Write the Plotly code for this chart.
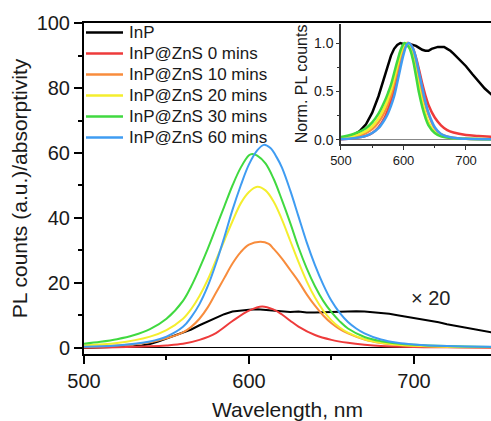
import plotly.graph_objects as go

# ---------------- data: main panel (PL counts / absorptivity) ----------------
wl_inp = [500, 510, 520, 530, 535, 540, 545, 550, 555, 560, 565, 570, 575, 580, 585, 590, 595,
          600, 605, 610, 615, 620, 625, 630, 635, 640, 645, 650, 655, 660, 665, 670, 675, 680,
          685, 690, 695, 700, 705, 710, 715, 720, 725, 730, 735, 740, 745, 747]
pl_inp = [0.0, 0.1, 0.3, 0.5, 0.8, 1.2, 2.0, 2.9, 3.8, 4.6, 5.7, 7.0, 8.2, 9.3, 10.4, 11.2, 11.6,
          11.8, 11.9, 11.7, 11.5, 11.4, 11.1, 11.2, 10.9, 10.9, 11.0, 11.2, 11.3, 11.4, 11.3, 11.2,
          11.0, 10.8, 10.5, 10.1, 9.7, 9.3, 8.9, 8.4, 7.9, 7.3, 6.8, 6.3, 5.9, 5.4, 5.0, 4.8]

wl_0 = [500, 520, 540, 550, 560, 570, 580, 590, 600, 608, 615, 620, 625, 630, 640, 650, 660, 670,
        680, 700, 720, 747]
pl_0 = [0.1, 0.2, 0.5, 0.8, 1.3, 2.5, 4.6, 8.3, 11.5, 12.8, 11.8, 10.3, 8.4, 6.6, 4.0, 2.5, 1.6,
        1.0, 0.6, 0.3, 0.2, 0.1]

wl_10 = [500, 520, 540, 550, 560, 565, 570, 575, 580, 585, 590, 595, 600, 607, 612, 615, 620, 625,
         630, 635, 640, 645, 650, 655, 660, 670, 680, 690, 700, 720, 747]
pl_10 = [0.4, 0.8, 1.8, 3.0, 4.8, 6.5, 9.0, 12.5, 17.0, 21.5, 26.0, 29.5, 31.8, 32.7, 32.0, 30.5,
         27.5, 24.0, 20.5, 16.5, 13.0, 10.0, 7.6, 5.8, 4.5, 2.6, 1.5, 0.9, 0.6, 0.3, 0.2]

wl_20 = [500, 520, 540, 550, 560, 565, 570, 575, 580, 585, 590, 595, 600, 605, 610, 615, 620, 625,
         630, 635, 640, 645, 650, 655, 660, 670, 680, 690, 700, 720, 747]
pl_20 = [0.8, 1.5, 3.5, 5.5, 9.0, 12.0, 16.0, 21.0, 27.0, 33.0, 39.0, 44.5, 48.0, 49.6, 48.5, 45.0,
         39.5, 33.0, 26.5, 20.5, 15.5, 11.5, 8.5, 6.3, 4.7, 2.7, 1.6, 1.0, 0.7, 0.4, 0.3]

wl_30 = [500, 510, 520, 530, 540, 550, 560, 565, 570, 575, 580, 585, 590, 595, 600, 602, 605, 610,
         615, 620, 625, 630, 635, 640, 645, 650, 655, 660, 670, 680, 690, 700, 720, 747]
pl_30 = [1.3, 1.9, 2.7, 3.9, 5.8, 9.0, 14.5, 19.0, 24.5, 30.5, 37.0, 43.5, 50.0, 55.5, 59.3, 59.7,
         59.2, 56.8, 52.0, 45.5, 38.5, 31.0, 24.5, 19.0, 14.5, 11.0, 8.2, 6.0, 3.4, 2.1, 1.4, 1.0,
         0.6, 0.3]

wl_60 = [500, 520, 540, 550, 560, 565, 570, 575, 580, 585, 590, 595, 600, 605, 609, 613, 617, 620,
         625, 630, 635, 640, 645, 650, 655, 660, 665, 670, 680, 690, 700, 720, 747]
pl_60 = [0.4, 0.8, 2.0, 3.5, 6.5, 9.5, 13.5, 19.0, 26.0, 34.0, 42.5, 50.0, 56.5, 60.8, 62.5, 61.5,
         58.5, 55.5, 48.5, 40.5, 32.5, 25.5, 19.5, 14.5, 10.8, 8.0, 6.0, 4.5, 2.6, 1.6, 1.1, 0.6, 0.4]

# ---------------- data: inset (normalized PL) ----------------
in_wl_inp = [500, 510, 520, 530, 540, 550, 560, 570, 580, 585, 590, 595, 600, 605, 610, 615, 620,
             625, 630, 635, 640, 645, 650, 655, 660, 665, 670, 675, 680, 690, 700, 710, 720, 730, 742]
in_inp = [0.02, 0.03, 0.05, 0.09, 0.16, 0.28, 0.45, 0.67, 0.87, 0.94, 0.98, 1.0, 0.99, 0.98, 0.99,
          0.98, 0.97, 0.95, 0.93, 0.92, 0.92, 0.94, 0.95, 0.96, 0.96, 0.96, 0.94, 0.92, 0.89, 0.83,
          0.76, 0.68, 0.60, 0.53, 0.46]

in_wl_0 = [500, 520, 540, 550, 560, 570, 575, 580, 585, 590, 595, 600, 607, 612, 616, 620, 625, 630,
           635, 640, 650, 660, 670, 680, 700, 720, 742]
in_0 = [0.005, 0.015, 0.04, 0.07, 0.13, 0.23, 0.31, 0.41, 0.52, 0.65, 0.79, 0.91, 1.0, 0.98, 0.93,
        0.85, 0.72, 0.58, 0.46, 0.36, 0.23, 0.15, 0.1, 0.075, 0.05, 0.04, 0.03]

in_wl_10 = [500, 520, 540, 550, 560, 570, 575, 580, 585, 590, 595, 600, 606, 610, 614, 618, 622, 626,
            630, 635, 640, 650, 660, 680, 700, 742]
in_10 = [0.01, 0.03, 0.07, 0.11, 0.18, 0.29, 0.37, 0.46, 0.58, 0.71, 0.84, 0.94, 1.0, 0.98, 0.93,
         0.84, 0.72, 0.6, 0.48, 0.36, 0.26, 0.12, 0.06, 0.02, 0.01, 0.005]

in_wl_20 = [500, 520, 540, 550, 560, 570, 575, 580, 585, 590, 595, 600, 604, 608, 612, 616, 620, 625,
            630, 635, 640, 650, 660, 680, 700, 742]
in_20 = [0.02, 0.04, 0.09, 0.14, 0.22, 0.34, 0.42, 0.51, 0.63, 0.76, 0.88, 0.97, 1.0, 0.98, 0.93,
         0.83, 0.7, 0.54, 0.39, 0.27, 0.18, 0.08, 0.04, 0.015, 0.01, 0.005]

in_wl_30 = [500, 520, 540, 550, 560, 570, 575, 580, 585, 590, 595, 600, 602, 605, 610, 615, 620, 625,
            630, 635, 640, 650, 660, 680, 700, 742]
in_30 = [0.03, 0.06, 0.12, 0.18, 0.27, 0.40, 0.48, 0.57, 0.69, 0.81, 0.92, 0.99, 1.0, 0.985, 0.94,
         0.83, 0.66, 0.48, 0.34, 0.23, 0.15, 0.07, 0.035, 0.015, 0.01, 0.005]

in_wl_60 = [500, 520, 540, 550, 560, 570, 575, 580, 585, 590, 595, 600, 605, 608, 612, 616, 620, 624,
            628, 632, 636, 640, 650, 660, 680, 700, 742]
in_60 = [0.005, 0.015, 0.04, 0.07, 0.12, 0.21, 0.27, 0.35, 0.45, 0.59, 0.74, 0.88, 0.98, 1.0, 0.98,
         0.93, 0.84, 0.72, 0.6, 0.48, 0.37, 0.28, 0.13, 0.06, 0.02, 0.01, 0.005]

names = ["InP", "InP@ZnS 0 mins", "InP@ZnS 10 mins", "InP@ZnS 20 mins",
         "InP@ZnS 30 mins", "InP@ZnS 60 mins"]
colors = ["#000000", "#ee3b3b", "#f88c3c", "#f4ee2e", "#40d940", "#3f9cf2"]

main_x = [wl_inp, wl_0, wl_10, wl_20, wl_30, wl_60]
main_y = [pl_inp, pl_0, pl_10, pl_20, pl_30, pl_60]
ins_x = [in_wl_inp, in_wl_0, in_wl_10, in_wl_20, in_wl_30, in_wl_60]
ins_y = [in_inp, in_0, in_10, in_20, in_30, in_60]

FONT = "Liberation Sans, Arial, sans-serif"
TXT = "#1a1a1a"

# figure geometry (pixels) used for the hand-placed legend
W, H = 491, 421
ML, MR, MT, MB = 84, 0, 23, 67
PW, PH = W - ML - MR, H - MT - MB


def px_x(px):
    return (px - ML) / PW


def px_y(py):
    return (H - MB - py) / PH


fig = go.Figure()
for i in range(6):
    fig.add_trace(go.Scatter(
        x=main_x[i], y=main_y[i], name=names[i], mode="lines", showlegend=False,
        line=dict(color=colors[i], width=2, shape="linear" if i == 0 else "spline"),
        xaxis="x", yaxis="y"))
for i in range(6):
    fig.add_trace(go.Scatter(
        x=ins_x[i], y=ins_y[i], name=names[i], mode="lines", showlegend=False,
        line=dict(color=colors[i], width=2.5, shape="linear" if i == 0 else "spline"),
        xaxis="x2", yaxis="y2"))

# legend drawn as line samples + labels
for i in range(6):
    yc = 32.5 + 21 * i
    fig.add_shape(type="line", xref="paper", yref="paper",
                  x0=px_x(86), x1=px_x(123), y0=px_y(yc), y1=px_y(yc),
                  line=dict(color=colors[i], width=2.5))
    fig.add_annotation(xref="paper", yref="paper", x=px_x(127), y=px_y(yc),
                       xanchor="left", yanchor="middle", text=names[i], showarrow=False,
                       font=dict(size=17, family=FONT, color=TXT))

fig.add_annotation(x=710, y=15.4, xref="x", yref="y", text="× 20", showarrow=False,
                   font=dict(size=20, color="#222222", family=FONT))

fig.update_layout(
    width=W, height=H,
    margin=dict(l=ML, r=MR, t=MT, b=MB),
    paper_bgcolor="white", plot_bgcolor="white",
    font=dict(family=FONT, color=TXT),
    showlegend=False,
    xaxis=dict(domain=[0, 1], range=[500, 746.7], showgrid=False, zeroline=False,
               showline=True, linecolor="black", linewidth=2, mirror=True,
               ticks="outside", ticklen=8, tickwidth=1.5, tickcolor="black",
               tickvals=[500, 600, 700], tickfont=dict(size=20, family=FONT, color=TXT),
               minor=dict(tickvals=[550, 650], ticks="outside", ticklen=4, tickcolor="black"),
               title=dict(text="Wavelength, nm", font=dict(size=21, family=FONT, color=TXT),
                          standoff=14)),
    yaxis=dict(domain=[0, 1], range=[-1.85, 100], showgrid=False,
               zeroline=True, zerolinecolor="black", zerolinewidth=1,
               showline=True, linecolor="black", linewidth=2, mirror=False,
               ticks="outside", ticklen=8, tickwidth=1.5, tickcolor="black",
               tickvals=[0, 20, 40, 60, 80, 100],
               tickfont=dict(size=20, family=FONT, color=TXT),
               minor=dict(tickvals=[10, 30, 50, 70, 90], ticks="outside", ticklen=4,
                          tickcolor="black"),
               title=dict(text="PL counts (a.u.)/absorptivity",
                          font=dict(size=21, family=FONT, color=TXT), standoff=3)),
    xaxis2=dict(domain=[0.6314, 1], anchor="y2", range=[500, 740], showgrid=False,
                zeroline=False, showline=True, linecolor="#333333", linewidth=1.5,
                ticks="outside", ticklen=4, tickcolor="#333333",
                tickvals=[500, 600, 700], tickfont=dict(size=13, family=FONT, color=TXT),
                minor=dict(tickvals=[550, 650], ticks="outside", ticklen=2, tickcolor="#333333")),
    yaxis2=dict(domain=[0.634, 0.998], anchor="x2", range=[-0.045, 1.2], showgrid=False,
                zeroline=True, zerolinecolor="#888888", zerolinewidth=1,
                showline=True, linecolor="#333333", linewidth=1.5,
                ticks="outside", ticklen=3, tickcolor="#333333",
                tickvals=[0, 0.5, 1.0], ticktext=["0.0", "0.5", "1.0"],
                tickfont=dict(size=14, family=FONT, color=TXT),
                minor=dict(tickvals=[0.25, 0.75], ticks="outside", ticklen=2, tickcolor="#333333"),
                title=dict(text="Norm. PL counts", font=dict(size=16, family=FONT, color=TXT),
                           standoff=2)),
)

fig.write_html("out.html")
